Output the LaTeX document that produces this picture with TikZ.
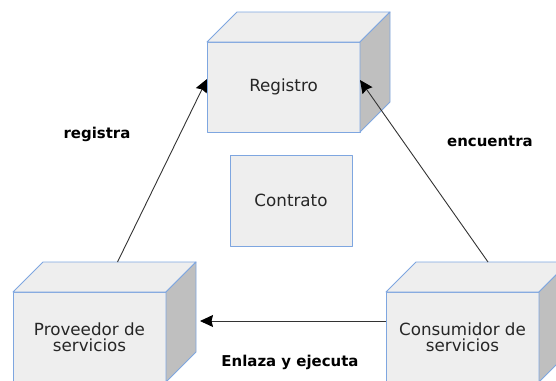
\documentclass[tikz,border=0pt]{standalone}
\usepackage{fontspec}
\setmainfont{DejaVu Sans}
\usetikzlibrary{arrows.meta,calc}
\definecolor{facefill}{HTML}{EEEEEE}
\definecolor{sidefill}{HTML}{BFBFBF}
\definecolor{edgeblue}{HTML}{7EA6E0}
\definecolor{arrowgray}{HTML}{333333}
\newcommand\cubefaces[1]{%
  \filldraw[face] (#1.north west) -- ++(30,-30) -- ($(#1.north east)+(30,-30)$) -- (#1.north east) -- cycle;
  \filldraw[face,fill=sidefill] (#1.north east) -- ($(#1.north east)+(30,-30)$) -- ($(#1.south east)+(30,-30)$) -- (#1.south east) -- cycle;
}
\begin{document}
\begin{tikzpicture}[x=1bp,y=-1bp,
  face/.style={draw=edgeblue,fill=facefill,line width=0.9bp,line join=round},
  front/.style={face,minimum width=153bp,minimum height=90bp,inner sep=0pt,outer sep=0pt,
    align=center,text=black!85,font=\fontsize{16.8}{16}\selectfont},
  flat/.style={front,minimum width=122bp,minimum height=91bp},
  lbl/.style={font=\bfseries\fontsize{15}{17}\selectfont,text=black},
  conn/.style={draw=arrowgray,line width=0.9bp,-{Stealth[length=13bp,width=12bp,inset=1.5bp,black]}}
]
\useasboundingbox (0,0) rectangle (556,380);
\node[front] (reg) at (283.5,87) {\raisebox{3bp}{Registro}};
\cubefaces{reg}
\node[front] (prov) at (89.5,337) {Proveedor de\\servicios};
\cubefaces{prov}
\node[front] (cons) at (462.5,337) {Consumidor de\\servicios};
\cubefaces{cons}
\node[flat] (contr) at (291,200.5) {Contrato};
\draw[conn] ($(prov.north)+(28,-30)$) -- ($(reg.west)+(0,-8)$);
\draw[conn] ($(cons.north)+(25.5,-30)$) -- ($(reg.east)+(0,-7)$);
\draw[conn] ($(cons.west)+(0,-16)$) -- ($(prov.east)+(34,-16)$);
\node[lbl] (lreg) at (97,134) {registra};
\node[lbl] (lenc) at (490,141) {encuentra};
\node[lbl] (lenl) at (290,362) {Enlaza y ejecuta};
\end{tikzpicture}
\end{document}
